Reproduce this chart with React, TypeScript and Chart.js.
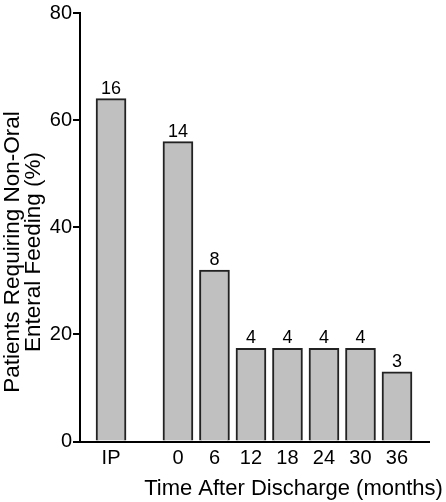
import React, { useEffect, useRef } from "react";
import { Chart, registerables } from "chart.js";

Chart.register(...registerables);

const categories = ["IP", "0", "6", "12", "18", "24", "30", "36"];
// horizontal slot of each category (months after discharge; IP placed before 0)
const slots = [-11, 0, 6, 12, 18, 24, 30, 36];
const percentValues = [64, 56, 32, 17.4, 17.4, 17.4, 17.4, 13];
const patientCounts = [16, 14, 8, 4, 4, 4, 4, 3];
const yTicks = [0, 20, 40, 60, 80];
const xTitle = "Time After Discharge (months)";
const yTitleLines = ["Patients Requiring Non-Oral", "Enteral Feeding (%)"];

const FONT = "Arial, 'Liberation Sans', sans-serif";

export default function App() {
  const ref = useRef<HTMLCanvasElement | null>(null);

  useEffect(() => {
    if (!ref.current) return;
    const labelPlugin = {
      id: "barLabels",
      afterDatasetsDraw(chart: any) {
        const ctx = chart.ctx;
        const meta = chart.getDatasetMeta(0);
        ctx.save();
        ctx.fillStyle = "#000";
        ctx.font = `18px ${FONT}`;
        ctx.textAlign = "center";
        ctx.textBaseline = "alphabetic";
        meta.data.forEach((bar: any, i: number) => {
          ctx.fillText(String(patientCounts[i]), bar.x, bar.y - 5);
        });
        ctx.restore();
      },
      afterDraw(chart: any) {
        const ctx = chart.ctx;
        ctx.save();
        ctx.fillStyle = "#000";
        ctx.font = `22px ${FONT}`;
        ctx.textAlign = "center";
        ctx.textBaseline = "alphabetic";
        ctx.fillText(xTitle, 293.5, 495);
        ctx.font = `22.5px ${FONT}`;
        ctx.translate(0, 252);
        ctx.rotate(-Math.PI / 2);
        ctx.fillText(yTitleLines[0], 0, 18.5);
        ctx.fillText(yTitleLines[1], 0, 40);
        ctx.restore();
      },
    };

    const chart = new Chart(ref.current, {
      type: "bar",
      data: {
        datasets: [
          {
            data: slots.map((x, i) => ({ x, y: percentValues[i] })),
            backgroundColor: "#c0c0c0",
            borderColor: "#222",
            borderWidth: 2,
            barThickness: 30,
          },
        ],
      },
      options: {
        animation: false,
        responsive: false,
        maintainAspectRatio: false,
        layout: { padding: { top: 0, right: 17, left: 0, bottom: 0 } },
        plugins: {
          legend: { display: false },
          tooltip: { enabled: false },
        },
        scales: {
          x: {
            type: "linear",
            offset: false,
            min: -16.1,
            max: 41.26,
            grid: { display: false, drawTicks: false, offset: false },
            border: { display: true, color: "#000", width: 2 },
            afterBuildTicks: (scale: any) => {
              scale.ticks = slots.map((v) => ({ value: v }));
            },
            afterFit: (scale: any) => {
              scale.height = 60.5;
            },
            ticks: {
              autoSkip: false,
              maxRotation: 0,
              color: "#000",
              padding: 5,
              font: { family: FONT, size: 20 },
              callback: (v: any) => {
                const i = slots.indexOf(Number(v));
                return i >= 0 ? categories[i] : "";
              },
            },
          },
          y: {
            min: 0,
            max: 80,
            afterBuildTicks: (scale: any) => {
              scale.ticks = yTicks.map((v) => ({ value: v }));
            },
            afterFit: (scale: any) => {
              scale.width = 80;
            },
            grid: {
              display: true,
              drawOnChartArea: false,
              drawTicks: true,
              tickLength: 7,
              color: "#000",
              lineWidth: 2,
            },
            border: { display: true, color: "#000", width: 2 },
            ticks: {
              color: "#000",
              padding: 1,
              font: { family: FONT, size: 20 },
            },
          },
        },
      },
      plugins: [labelPlugin],
    } as any);
    return () => chart.destroy();
  }, []);

  return (
    <div style={{ position: "fixed", left: 0, top: 0, width: 446, height: 502, background: "#fff" }}>
      <canvas ref={ref} width={446} height={502} style={{ display: "block", width: 446, height: 502 }} />
    </div>
  );
}
